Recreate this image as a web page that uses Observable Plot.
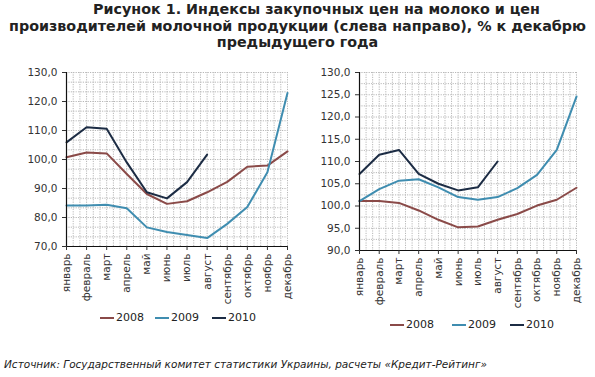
<!DOCTYPE html>
<html><head><meta charset="utf-8">
<script src="https://cdn.jsdelivr.net/npm/d3@7"></script>
<script src="https://cdn.jsdelivr.net/npm/@observablehq/plot@0.6"></script>
<style>
body{margin:0;background:#fff;font-family:"DejaVu Sans",Verdana,sans-serif;}
#wrap{position:relative;width:595px;height:377px;overflow:hidden;}
.title{position:absolute;left:0;width:595px;text-align:center;font-weight:bold;font-size:14.3px;color:#222;line-height:16.5px;top:1px;white-space:nowrap;}
.pos{position:absolute;}
.leg{position:absolute;font-size:11px;color:#222;display:flex;align-items:center;}
.leg span.sw{display:inline-block;width:14px;height:2px;margin-right:2px;}
.src{position:absolute;left:4px;top:358px;font-size:10.5px;font-style:italic;color:#222;white-space:nowrap;}
</style></head>
<body><div id="wrap">
<div class="title" style="padding-left:38px;box-sizing:border-box">Рисунок 1. Индексы закупочных цен на молоко и цен</div>
<div class="title" style="top:17.5px">производителей молочной продукции (слева направо), % к декабрю</div>
<div class="title" style="top:34px">предыдущего года</div>
<div id="left" class="pos" style="left:0;top:60px"></div>
<div id="right" class="pos" style="left:298px;top:60px"></div>
<div id="legL"></div><div id="legR"></div>
<div class="src">Источник: Государственный комитет статистики Украины, расчеты «Кредит-Рейтинг»</div>
</div>
<script>
const months = ["январь","февраль","март","апрель","май","июнь","июль","август","сентябрь","октябрь","ноябрь","декабрь"];
const years = ["2008","2009","2010"];
const colors = ["#8a4a48","#3f8db0","#1c2c44"];

// Left: purchase price indices for milk
const milk2008 = [100.8,102.4,102.1,95.0,88.1,84.7,85.6,88.7,92.3,97.5,97.9,102.8];
const milk2009 = [84.1,84.1,84.4,83.2,76.6,75.0,74.0,72.9,77.8,83.6,95.6,122.9];
const milk2010 = [105.9,111.1,110.6,99.0,88.7,86.6,92.2,101.7];
// Right: producer price indices for dairy products
const dairy2008 = [101.1,101.1,100.7,99.0,96.9,95.2,95.4,96.9,98.2,100.1,101.4,104.1];
const dairy2009 = [101.1,103.8,105.7,106.0,104.2,102.0,101.4,102.0,104.0,107.0,112.6,124.6];
const dairy2010 = [107.2,111.5,112.6,107.2,105.0,103.5,104.2,110.0];

const leftTicks = [70,80,90,100,110,120,130];
const rightTicks = [90,95,100,105,110,115,120,125,130];

function fmt(v){return v.toFixed(1).replace(".",",");}

function chart(series, ticks, minorStep, opts){
  const [ymin,ymax] = [ticks[0], ticks[ticks.length-1]];
  const hMinor = d3.range(ymin, ymax+0.001, minorStep);
  const vMinor = d3.range(0, 11.001, 1/3);
  const idx = d3.range(12);
  return Plot.plot({
    width:297, height:250,
    marginLeft:opts.ml, marginRight:opts.mr, marginTop:12, marginBottom:opts.mb,
    style:{fontFamily:"DejaVu Sans, Verdana, sans-serif", fontSize:"10px", color:"#333", background:"transparent"},
    x:{type:"linear", domain:[0,11]},
    y:{domain:[ymin,ymax]},
    marks:[
      Plot.ruleY(hMinor, {stroke:"#b8b8b8", strokeDasharray:"1.2,1.2", strokeWidth:1}),
      Plot.ruleX(vMinor, {stroke:"#b8b8b8", strokeDasharray:"1.2,1.2", strokeWidth:1}),
      ...series.map((s,k)=>Plot.line(s.map((v,i)=>({i,v})), {x:"i", y:"v", stroke:colors[k], strokeWidth:2})),
      Plot.ruleX([0], {stroke:"#111", strokeWidth:1.2}),
      Plot.ruleY([ymin], {stroke:"#111", strokeWidth:1.2}),
      Plot.axisY({ticks:ticks, tickFormat:fmt, tickSize:4, tickPadding:5, label:null, fontSize:10.5}),
      Plot.axisX({ticks:idx, tickFormat:i=>months[i], tickSize:4, tickPadding:3, tickRotate:-90, label:null, fontSize:10.5})
    ]
  });
}

document.getElementById("left").append(chart([milk2008,milk2009,milk2010], leftTicks, 10/3, {ml:66, mr:10, mb:64}));
document.getElementById("right").append(chart([dairy2008,dairy2009,dairy2010], rightTicks, 2.5, {ml:61, mr:19, mb:60}));

function legend(id, left, top, gaps){
  const el = document.getElementById(id);
  years.forEach((y,k)=>{
    const d = document.createElement("div");
    d.className="leg";
    d.style.left = (left + gaps[k]) + "px";
    d.style.top = top + "px";
    d.innerHTML = `<span class="sw" style="background:${colors[k]}"></span>${y}`;
    el.append(d);
  });
}
legend("legL", 100, 311, [0,55,112]);
legend("legR", 390, 318, [0,62,120]);
</script>
</body></html>
